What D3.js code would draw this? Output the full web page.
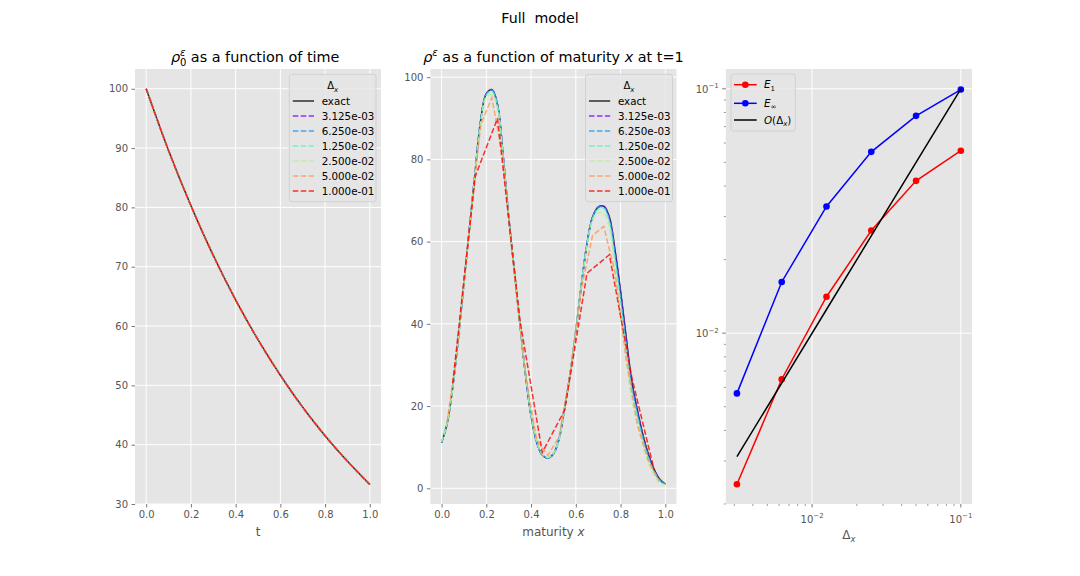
<!DOCTYPE html>
<html><head><meta charset="utf-8">
<script src="https://cdn.jsdelivr.net/npm/d3@7/dist/d3.min.js"></script>
<style>body{margin:0;background:#fff} text{font-family:"DejaVu Sans",sans-serif}</style>
</head><body><svg id="c" width="1080" height="576"></svg>
<script>
// ---------------- DATA ----------------
const tTimes = [0,0.1,0.2,0.3,0.4,0.5,0.6,0.7,0.8,0.9,1.0];
const rho0Exact = [100,89.6,80.3,71.9,64.4,57.7,51.7,46.3,41.5,37.2,33.3];
const rho0Numeric = [100,89.6,80.3,71.9,64.4,57.7,51.7,46.3,41.5,37.2,33.3];
const deltaLabels = ["3.125e-03","6.250e-03","1.250e-02","2.500e-02","5.000e-02","1.000e-01"];
const deltaColors = ["#8000ff","#1996f3","#4df3ce","#b3f396","#ff964f","#ff0000"];

const maturityX = [0,0.025,0.05,0.075,0.1,0.125,0.15,0.175,0.2,0.225,0.25,0.275,0.3,0.325,0.35,0.375,0.4,0.425,0.45,0.475,0.5,0.525,0.55,0.575,0.6,0.625,0.65,0.675,0.7,0.725,0.75,0.775,0.8,0.825,0.85,0.875,0.9,0.925,0.95,0.975,1.0];
const rhoExact = [11.1,15.8,24.6,36.5,50.0,63.5,77.0,89.6,96.0,97.0,93.3,81.0,66.0,53.0,40.0,27.7,17.6,11.2,8.1,7.35,8.4,12.0,19.5,28.0,38.3,49.5,59.5,66.0,68.4,68.6,66.0,58.0,48.0,36.8,26.0,19.1,13.0,8.2,4.6,2.2,1.0];
const rhoD1 = [11.1,15.8,24.6,36.5,50.0,63.5,77.0,89.6,96.0,96.9,93.3,81.0,66.0,53.0,40.0,27.7,17.6,11.2,8.1,7.35,8.4,12.0,19.5,28.0,38.3,49.5,59.5,66.0,68.4,68.6,65.9,57.8,47.8,36.6,25.8,19.0,12.9,8.1,4.5,2.15,1.0];
const rhoD2 = [11.1,15.8,24.6,36.5,50.0,63.5,77.0,89.6,95.9,96.9,93.2,80.9,66.0,53.0,40.0,27.7,17.6,11.2,8.1,7.35,8.4,12.0,19.5,28.0,38.3,49.5,59.5,66.0,68.3,68.4,65.4,56.9,46.7,35.5,24.9,18.3,12.3,7.7,4.2,2.0,0.95];
const rhoD3 = [11.2,15.9,24.6,36.5,50.0,63.4,76.9,89.4,95.7,96.6,93.0,80.8,65.9,53.0,40.1,27.8,17.7,11.3,8.2,7.4,8.45,12.0,19.5,28.0,38.3,49.4,59.3,65.7,67.9,68.1,64.7,55.8,45.4,34.1,23.8,17.5,11.6,7.2,3.85,1.75,0.9];
const rhoD4 = [11.3,16.0,24.6,36.5,50.0,63.3,76.8,89.0,95.0,95.8,92.5,80.5,65.8,53.0,40.2,27.9,17.9,11.5,8.3,7.5,8.5,12.0,19.4,27.9,38.2,49.2,59.0,65.2,67.0,66.8,63.4,53.5,42.7,31.3,21.6,15.8,10.3,6.1,3.1,1.3,0.8];
const coarseX5 = [0.025,0.075,0.125,0.175,0.225,0.275,0.325,0.375,0.425,0.475,0.525,0.575,0.625,0.675,0.725,0.775,0.825,0.875,0.925,0.975];
const rhoD5 = [16.0,36.5,63.0,88.5,95.0,80.0,52.0,27.5,11.8,8.0,12.5,28.0,48.5,61.5,63.7,52.5,31.5,15.5,6.5,1.6];
const coarseX6 = [0.05,0.15,0.25,0.35,0.45,0.55,0.65,0.75,0.85,0.95];
const rhoD6 = [25.5,75.8,90.0,41.0,8.7,19.0,52.3,56.8,27.0,4.5];

const dxValues = [0.003125,0.00625,0.0125,0.025,0.05,0.1];
const errE1 = [0.00241,0.00648,0.0141,0.0263,0.0420,0.0558];
const errEinf = [0.00567,0.0162,0.0330,0.0552,0.0775,0.0993];
const orderRef = [0.003125,0.00625,0.0125,0.025,0.05,0.1];

const linTicks = [0,0.2,0.4,0.6,0.8,1.0];
const rho0Ticks = [30,40,50,60,70,80,90,100];
const rhoTicks = [0,20,40,60,80,100];

// ---------------- LAYOUT ----------------
const svg = d3.select("#c");
const TOP = 69, BOT = 504;
const P = [{l:135,r:381},{l:430.4,r:676.5},{l:725.8,r:972}];
const BG = "#e5e5e5", TC = "#555555";
const DASH = "5.55,2.4";

const x1 = d3.scaleLinear([-0.05,1.05],[P[0].l,P[0].r]);
const y1 = d3.scaleLinear([30,103.33],[BOT,TOP]);
const x2 = d3.scaleLinear([-0.05,1.05],[P[1].l,P[1].r]);
const y2 = d3.scaleLinear([-3.82,101.98],[BOT,TOP]);
const x3 = d3.scaleLog([Math.pow(10,-2.58),Math.pow(10,-0.925)],[P[2].l,P[2].r]);
const y3 = d3.scaleLog([Math.pow(10,-2.699),Math.pow(10,-0.919)],[BOT,TOP]);

// backgrounds
P.forEach(p=>svg.append("rect").attr("x",p.l).attr("y",TOP).attr("width",p.r-p.l).attr("height",BOT-TOP).attr("fill",BG));

function grid(xs, xv, ys, yv, p){
  const g = svg.append("g");
  xv.forEach(v=>g.append("line").attr("x1",xs(v)).attr("x2",xs(v)).attr("y1",TOP).attr("y2",BOT).attr("stroke","#fff").attr("stroke-width",1));
  yv.forEach(v=>g.append("line").attr("x1",p.l).attr("x2",p.r).attr("y1",ys(v)).attr("y2",ys(v)).attr("stroke","#fff").attr("stroke-width",1));
}
grid(x1,linTicks,y1,rho0Ticks,P[0]);
grid(x2,linTicks,y2,rhoTicks,P[1]);
grid(x3,[0.01,0.1],y3,[0.01,0.1],P[2]);

function styleAxis(g){
  g.select(".domain").remove();
  g.attr("font-family",null).attr("font-size",null);
  g.selectAll(".tick line").attr("stroke",TC).attr("stroke-width",0.8);
  g.selectAll(".tick text").attr("fill",TC).attr("font-size",10).attr("font-family","DejaVu Sans");
}
// linear axes
[[x1,y1,rho0Ticks],[x2,y2,rhoTicks]].forEach(([xs,ys,yt])=>{
  svg.append("g").attr("transform",`translate(0,${BOT})`)
    .call(d3.axisBottom(xs).tickValues(linTicks).tickFormat(d3.format(".1f")).tickSize(3.5).tickPadding(3.5)).call(styleAxis);
  svg.append("g").attr("transform",`translate(${xs.range()[0]},0)`)
    .call(d3.axisLeft(ys).tickValues(yt).tickFormat(d3.format("d")).tickSize(3.5).tickPadding(3.5)).call(styleAxis);
});

// log axes
const xMinor = [0.003,0.004,0.005,0.006,0.007,0.008,0.009,0.02,0.03,0.04,0.05,0.06,0.07,0.08,0.09];
const yMinor = [0.002,0.003,0.004,0.005,0.006,0.007,0.008,0.009,0.02,0.03,0.04,0.05,0.06,0.07,0.08,0.09];
const lg = svg.append("g");
xMinor.forEach(v=>lg.append("line").attr("x1",x3(v)).attr("x2",x3(v)).attr("y1",BOT).attr("y2",BOT+2).attr("stroke",TC).attr("stroke-width",0.6));
yMinor.forEach(v=>lg.append("line").attr("y1",y3(v)).attr("y2",y3(v)).attr("x1",P[2].l).attr("x2",P[2].l-2).attr("stroke",TC).attr("stroke-width",0.6));
[[0.01,"−2"],[0.1,"−1"]].forEach(([v,e])=>{
  lg.append("line").attr("x1",x3(v)).attr("x2",x3(v)).attr("y1",BOT).attr("y2",BOT+3.5).attr("stroke",TC).attr("stroke-width",0.8);
  const t = lg.append("text").attr("x",x3(v)).attr("y",BOT+18.5).attr("text-anchor","middle").attr("fill",TC).attr("font-size",10);
  t.append("tspan").text("10");
  t.append("tspan").attr("font-size",7).attr("dy",-4.5).text(e);
  lg.append("line").attr("y1",y3(v)).attr("y2",y3(v)).attr("x1",P[2].l).attr("x2",P[2].l-3.5).attr("stroke",TC).attr("stroke-width",0.8);
  const t2 = lg.append("text").attr("x",P[2].l-7).attr("y",y3(v)+4).attr("text-anchor","end").attr("fill",TC).attr("font-size",10);
  t2.append("tspan").text("10");
  t2.append("tspan").attr("font-size",7).attr("dy",-4.5).text(e);
});

// ---------------- CURVES ----------------
function draw(xs, ys, xd, yd, color, opts){
  const line = d3.line().x((d,i)=>xs(xd[i])).y(d=>ys(d)).curve(opts.curve||d3.curveLinear);
  svg.append("path").attr("d",line(yd)).attr("fill","none").attr("stroke",color)
    .attr("stroke-width",1.5).attr("stroke-opacity",opts.op==null?0.8:opts.op)
    .attr("stroke-dasharray",opts.dash?DASH:null);
}
// panel 1
draw(x1,y1,tTimes,rho0Exact,"#000",{curve:d3.curveCatmullRom});
deltaColors.forEach(c=>draw(x1,y1,tTimes,rho0Numeric,c,{curve:d3.curveCatmullRom,dash:true}));
// panel 2
draw(x2,y2,maturityX,rhoExact,"#000",{curve:d3.curveCatmullRom});
[rhoD1,rhoD2,rhoD3,rhoD4].forEach((s,i)=>draw(x2,y2,maturityX,s,deltaColors[i],{curve:d3.curveCatmullRom,dash:true}));
draw(x2,y2,coarseX5,rhoD5,deltaColors[4],{dash:true});
draw(x2,y2,coarseX6,rhoD6,deltaColors[5],{dash:true});
// panel 3
[[errE1,"#ff0000",true],[errEinf,"#0000ff",true],[orderRef,"#000000",false]].forEach(([s,c,m])=>{
  const line = d3.line().x((d,i)=>x3(dxValues[i])).y(d=>y3(d));
  svg.append("path").attr("d",line(s)).attr("fill","none").attr("stroke",c).attr("stroke-width",1.5);
  if(m) s.forEach((d,i)=>svg.append("circle").attr("cx",x3(dxValues[i])).attr("cy",y3(d)).attr("r",3.3).attr("fill",c));
});

// ---------------- LEGENDS ----------------
function deltaTitle(g, cx, y, size){
  const t = g.append("text").attr("x",cx).attr("y",y).attr("text-anchor","middle").attr("font-size",size).attr("fill","#000");
  t.append("tspan").text("Δ");
  t.append("tspan").attr("font-size",size*0.7).attr("font-style","italic").attr("dy",2.5).text("x");
}
function deltaLegend(l, r){
  const g = svg.append("g");
  g.append("rect").attr("x",l).attr("y",74.3).attr("width",r-l).attr("height",127.4).attr("rx",2.5)
    .attr("fill",BG).attr("fill-opacity",0.8).attr("stroke","#cccccc").attr("stroke-opacity",0.8).attr("stroke-width",1);
  deltaTitle(g,(l+r)/2,89,10);
  const labels = ["exact"].concat(deltaLabels), cols = ["#000"].concat(deltaColors);
  labels.forEach((lab,i)=>{
    const yy = 101+15*i;
    g.append("line").attr("x1",l+3.5).attr("x2",l+24.7).attr("y1",yy).attr("y2",yy).attr("stroke",cols[i])
      .attr("stroke-opacity",0.8).attr("stroke-width",1.5).attr("stroke-dasharray",i?DASH:null);
    g.append("text").attr("x",l+32.4).attr("y",yy+3.6).attr("font-size",10.3).attr("fill","#000").text(lab);
  });
}
deltaLegend(289.3,376);
deltaLegend(585.5,672.5);

(function(){
  const g = svg.append("g"), l = 731, r = 795.3;
  g.append("rect").attr("x",l).attr("y",74).attr("width",r-l).attr("height",57).attr("rx",2.5)
    .attr("fill",BG).attr("fill-opacity",0.8).attr("stroke","#cccccc").attr("stroke-opacity",0.8);
  const rows = [84.7,103.3,120];
  const cols = ["#ff0000","#0000ff","#000000"];
  rows.forEach((yy,i)=>{
    g.append("line").attr("x1",l+3).attr("x2",l+25.7).attr("y1",yy).attr("y2",yy).attr("stroke",cols[i]).attr("stroke-width",1.5);
    if(i<2) g.append("circle").attr("cx",l+14.3).attr("cy",yy).attr("r",3.3).attr("fill",cols[i]);
    const t = g.append("text").attr("x",l+33).attr("y",yy+3.6).attr("font-size",10.3).attr("fill","#000");
    if(i===0){ t.append("tspan").attr("font-style","italic").text("E"); t.append("tspan").attr("font-size",7).attr("dy",2.5).text("1"); }
    if(i===1){ t.append("tspan").attr("font-style","italic").text("E"); t.append("tspan").attr("font-size",7).attr("dy",2.5).text("∞"); }
    if(i===2){ t.append("tspan").attr("font-style","italic").text("O"); t.append("tspan").text("(Δ");
      t.append("tspan").attr("font-size",7).attr("font-style","italic").attr("dy",2.5).text("x");
      t.append("tspan").attr("dy",-2.5).text(")"); }
  });
})();

// ---------------- TITLES & LABELS ----------------
svg.append("text").attr("x",540).attr("y",23).attr("text-anchor","middle").attr("font-size",14.2)
  .attr("fill","#000").style("white-space","pre").text("Full  model");

function centerText(t, cx){
  const w = t.node().getComputedTextLength();
  t.attr("x", cx - w/2);
}
(function(){
  const t = svg.append("text").attr("y",62).attr("font-size",14.4).attr("fill","#000");
  t.append("tspan").attr("font-style","italic").text("ρ");
  t.append("tspan").attr("font-style","italic").attr("font-size",10).attr("dy",-6).text("ε");
  t.append("tspan").attr("font-size",10).attr("dx",-5.6).attr("dy",9.5).text("0");
  t.append("tspan").attr("dy",-3.5).text(" as a function of time");
  centerText(t,(P[0].l+P[0].r)/2);
})();
(function(){
  const t = svg.append("text").attr("y",62).attr("font-size",14.4).attr("fill","#000");
  t.append("tspan").attr("font-style","italic").text("ρ");
  t.append("tspan").attr("font-style","italic").attr("font-size",10).attr("dy",-6).text("ε");
  t.append("tspan").attr("dy",6).text(" as a function of maturity ");
  t.append("tspan").attr("font-style","italic").text("x");
  t.append("tspan").text(" at t=1");
  centerText(t,(P[1].l+P[1].r)/2);
})();
svg.append("text").attr("x",(P[0].l+P[0].r)/2).attr("y",536).attr("text-anchor","middle").attr("font-size",12).attr("fill",TC).text("t");
(function(){
  const t = svg.append("text").attr("x",(P[1].l+P[1].r)/2).attr("y",536).attr("text-anchor","middle").attr("font-size",12).attr("fill",TC);
  t.append("tspan").text("maturity ");
  t.append("tspan").attr("font-style","italic").text("x");
})();
(function(){
  const t = svg.append("text").attr("x",(P[2].l+P[2].r)/2).attr("y",539).attr("text-anchor","middle").attr("font-size",12).attr("fill",TC);
  t.append("tspan").text("Δ");
  t.append("tspan").attr("font-style","italic").attr("font-size",8.4).attr("dy",3).text("x");
})();
</script></body></html>
